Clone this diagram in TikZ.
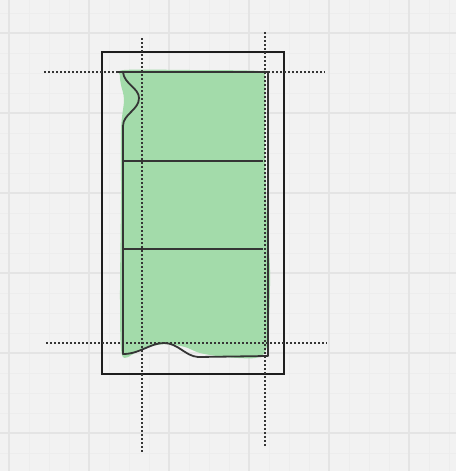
\documentclass[tikz,border=0pt]{standalone}
\usepackage{tikz}
\usetikzlibrary{calc}
\usepackage{xcolor}
\definecolor{paper}{HTML}{F2F2F2}
\definecolor{gridminor}{HTML}{EDEDED}
\definecolor{gridmajor}{HTML}{E4E4E4}
\definecolor{ink}{HTML}{1E1E1E}
\definecolor{leaf}{RGB}{163,219,170}
\tikzset{
  minorline/.style={gridminor, line width=1pt},
  majorline/.style={gridmajor, line width=1.3pt},
  guide/.style={ink!90, line width=1.5pt, dash pattern=on 1.6pt off 2.4pt},
  outline/.style={ink!90, line width=1.8pt, line join=round}
}
\begin{document}
\begin{tikzpicture}[x=1pt, y=-1pt]
\fill[paper] (0,0) rectangle (456,471);
\useasboundingbox (0,0) rectangle (456,471);
% background grid
\foreach \x in {9,29,...,449} \draw[minorline] (\x,0) -- (\x,471);
\foreach \y in {13,33,...,469} \draw[minorline] (0,\y) -- (456,\y);
\foreach \x in {9,89,...,449} \draw[majorline] (\x,0) -- (\x,471);
\foreach \y in {33,113,...,469} \draw[majorline] (0,\y) -- (456,\y);
% green sketch fill
\fill[leaf] plot[smooth cycle, tension=0.5] coordinates {
  (124,70) (190,70) (258,71) (265,77) (265,150) (267,220) (270,270)
  (269,320) (266,350) (255,358) (225,357) (200,353) (185,347) (166,344)
  (148,347) (135,353) (122,355) (120,300) (121,200) (121,130) (124,100)
  (121,85) (120,76)};
% outer frame
\draw[ink, line width=2.4pt] (102,52) rectangle (284,374);
% cut outline
\draw[outline] (118,72) -- (268,72) -- (268,356) -- (198,357)
  .. controls (185,356) and (178,343) .. (164,343)
  .. controls (150,343) and (140,354) .. (123,354) -- (123,126)
  .. controls (123,114) and (139,110) .. (139,98)
  .. controls (139,88) and (124,84) .. (123,72);
\draw[outline] (123,161) -- (263,161);
\draw[outline] (123,249) -- (263,249);
% guides
\draw[guide] (44,72) -- (325,72);
\draw[guide] (46,343) -- (327,343);
\draw[guide] (142,38) -- (142,453);
\draw[guide] (265,32) -- (265,446);
\end{tikzpicture}
\end{document}
